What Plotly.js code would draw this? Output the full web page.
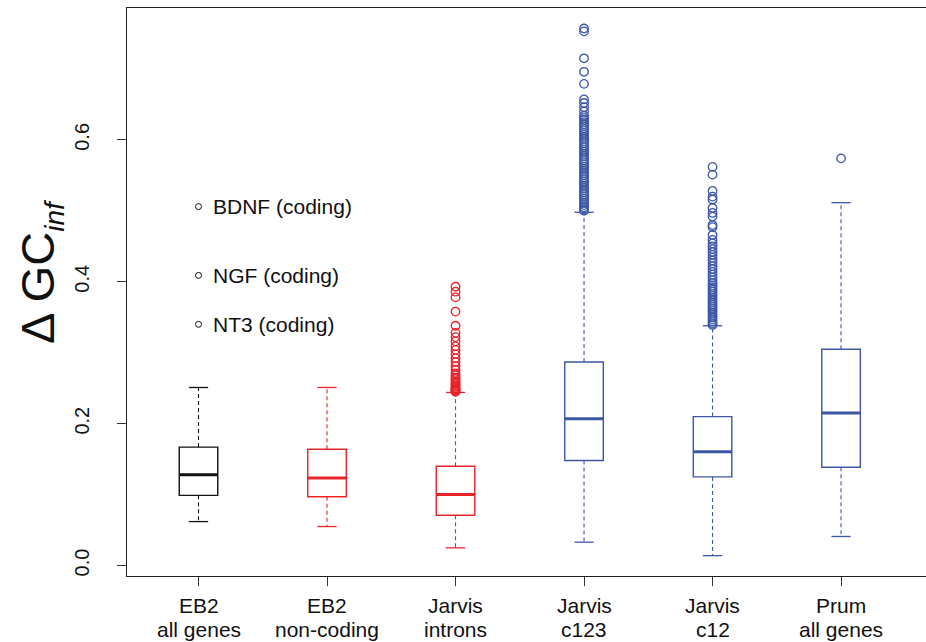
<!DOCTYPE html>
<html>
<head>
<meta charset="utf-8">
<script src="https://cdn.plot.ly/plotly-3.0.1.min.js"></script>
<style>html,body{margin:0;padding:0;background:#fff;}#chart{width:926px;height:642px;}</style>
</head>
<body>
<div id="chart"></div>
<script>
// ---- data ----
var labelLine1 = ["EB2", "EB2", "Jarvis", "Jarvis", "Jarvis", "Prum"];
var labelLine2 = ["all genes", "non-coding", "introns", "c123", "c12", "all genes"];
var positions = [1, 2, 3, 4, 5, 6];

var lowerWhisker = [0.062, 0.055, 0.025, 0.033, 0.014, 0.041];
var q1 = [0.099, 0.097, 0.071, 0.148, 0.125, 0.1385];
var median = [0.128, 0.1235, 0.100, 0.207, 0.1605, 0.215];
var q3 = [0.167, 0.164, 0.140, 0.287, 0.210, 0.305];
var upperWhisker = [0.251, 0.251, 0.244, 0.498, 0.338, 0.5115];

var outliersEB2all = [];
var outliersEB2nc = [];
var outliersIntrons = [0.393, 0.386, 0.378, 0.358, 0.338, 0.328, 0.322, 0.316, 0.309, 0.304, 0.298, 0.292, 0.287, 0.281, 0.276, 0.271, 0.268, 0.265, 0.263, 0.260, 0.258, 0.256, 0.254, 0.252, 0.250, 0.249, 0.248, 0.247, 0.246, 0.245];
var outliersC123 = [0.757, 0.753, 0.715, 0.696, 0.679, 0.657, 0.652, 0.646, 0.640, 0.634, 0.631, 0.628, 0.625, 0.622, 0.619, 0.616, 0.613, 0.610, 0.607, 0.604, 0.601, 0.598, 0.595, 0.592, 0.589, 0.586, 0.583, 0.580, 0.577, 0.574, 0.571, 0.568, 0.565, 0.562, 0.559, 0.556, 0.553, 0.550, 0.547, 0.544, 0.541, 0.538, 0.535, 0.532, 0.529, 0.526, 0.523, 0.520, 0.517, 0.514, 0.511, 0.508, 0.505, 0.502, 0.500];
var outliersC12 = [0.562, 0.551, 0.528, 0.520, 0.516, 0.504, 0.497, 0.492, 0.480, 0.477, 0.466, 0.459, 0.454, 0.450, 0.446, 0.442, 0.438, 0.434, 0.430, 0.426, 0.422, 0.418, 0.414, 0.410, 0.406, 0.402, 0.398, 0.395, 0.392, 0.389, 0.386, 0.383, 0.380, 0.377, 0.374, 0.371, 0.368, 0.365, 0.362, 0.359, 0.356, 0.353, 0.350, 0.347, 0.344, 0.341, 0.339];
var outliersPrum = [0.574];
var outliers = [outliersEB2all, outliersEB2nc, outliersIntrons, outliersC123, outliersC12, outliersPrum];

var geneNames = ["BDNF (coding)", "NGF (coding)", "NT3 (coding)"];
var geneValues = [0.506, 0.409, 0.340];
var genePosition = [1, 1, 1];

var yTickVals = [0.0, 0.2, 0.4, 0.6];
var yTickText = ["0.0", "0.2", "0.4", "0.6"];

// ---- styling ----
var BLACK = "#111111", RED = "#E8232A", BLUE = "#3C57A6";
var groupColors = [BLACK, RED, RED, BLUE, BLUE, BLUE];
var FONT = "Liberation Sans, Arial, Helvetica, sans-serif";
var boxWidth = 0.30, capHalf = 0.075;

var traces = [];
for (var i = 0; i < positions.length; i++) {
  var p = positions[i], c = groupColors[i];
  traces.push({
    type: "box", x: [p], q1: [q1[i]], median: [median[i]], q3: [q3[i]],
    lowerfence: [q1[i]], upperfence: [q3[i]],
    width: boxWidth, whiskerwidth: 0, boxpoints: false,
    line: {color: c, width: 1.4}, fillcolor: "rgba(255,255,255,0)",
    hoverinfo: "skip", showlegend: false
  });
  traces.push({
    type: "scatter", mode: "lines",
    x: [p, p, null, p, p],
    y: [q3[i], upperWhisker[i], null, q1[i], lowerWhisker[i]],
    line: {color: c, width: 1.1, dash: "4px,3px"},
    hoverinfo: "skip", showlegend: false
  });
  traces.push({
    type: "scatter", mode: "lines",
    x: [p - capHalf, p + capHalf, null, p - capHalf, p + capHalf],
    y: [upperWhisker[i], upperWhisker[i], null, lowerWhisker[i], lowerWhisker[i]],
    line: {color: c, width: 1.3},
    hoverinfo: "skip", showlegend: false
  });
  traces.push({
    type: "scatter", mode: "lines",
    x: [p - boxWidth / 2, p + boxWidth / 2],
    y: [median[i], median[i]],
    line: {color: c, width: 3},
    hoverinfo: "skip", showlegend: false
  });
  if (outliers[i].length) {
    traces.push({
      type: "scatter", mode: "markers",
      x: outliers[i].map(function () { return p; }),
      y: outliers[i],
      marker: {symbol: "circle-open", size: 8.5, color: c, line: {width: 1.3, color: c}},
      hoverinfo: "skip", showlegend: false
    });
  }
}
traces.push({
  type: "scatter", mode: "markers",
  x: genePosition, y: geneValues,
  marker: {symbol: "circle-open", size: 6, color: BLACK, line: {width: 1, color: BLACK}},
  hoverinfo: "skip", showlegend: false
});

var annotations = [];
for (var g = 0; g < geneNames.length; g++) {
  annotations.push({
    xref: "x", yref: "y", x: genePosition[g], y: geneValues[g],
    text: geneNames[g], showarrow: false, xanchor: "left", yanchor: "middle",
    xshift: 12, font: {family: FONT, size: 21, color: "#111"}
  });
}
for (var k = 0; k < positions.length; k++) {
  annotations.push({
    xref: "x", yref: "paper", x: positions[k], y: 0,
    text: labelLine1[k], showarrow: false, xanchor: "center", yanchor: "middle",
    yshift: -29, font: {family: FONT, size: 21, color: "#111"}
  });
  annotations.push({
    xref: "x", yref: "paper", x: positions[k], y: 0,
    text: labelLine2[k], showarrow: false, xanchor: "center", yanchor: "middle",
    yshift: -53, font: {family: FONT, size: 21, color: "#111"}
  });
}
annotations.push({
  xref: "paper", yref: "paper", x: 0, y: 0.535, xshift: -87,
  xanchor: "center", yanchor: "middle", textangle: -90, showarrow: false,
  text: 'Δ GC<sub><span style="font-size:28px"><i>inf</i></span></sub>',
  font: {family: FONT, size: 47, color: "#111"}
});

var layout = {
  width: 926, height: 642,
  margin: {l: 127, r: 0, t: 8, b: 66, pad: 0},
  paper_bgcolor: "#fff", plot_bgcolor: "#fff",
  font: {family: FONT, size: 21, color: "#111"},
  showlegend: false,
  xaxis: {
    range: [0.4436, 6.661], tickmode: "array", tickvals: positions,
    showticklabels: false,
    ticks: "outside", ticklen: 9, tickwidth: 1, tickcolor: "#333",
    showline: true, mirror: true, linecolor: "#222", linewidth: 1.2,
    showgrid: false, zeroline: false
  },
  yaxis: {
    range: [-0.0147, 0.7859], tickmode: "array", tickvals: yTickVals, ticktext: yTickText,
    ticks: "outside", ticklen: 9, tickwidth: 1, tickcolor: "#333", tickangle: -90,
    ticklabelstandoff: 20,
    tickfont: {family: FONT, size: 20, color: "#111"},
    showline: true, linecolor: "#222", linewidth: 1.2,
    showgrid: false, zeroline: false
  },
  annotations: annotations
};

Plotly.newPlot("chart", traces, layout, {displayModeBar: false, staticPlot: true});
</script>
</body>
</html>
